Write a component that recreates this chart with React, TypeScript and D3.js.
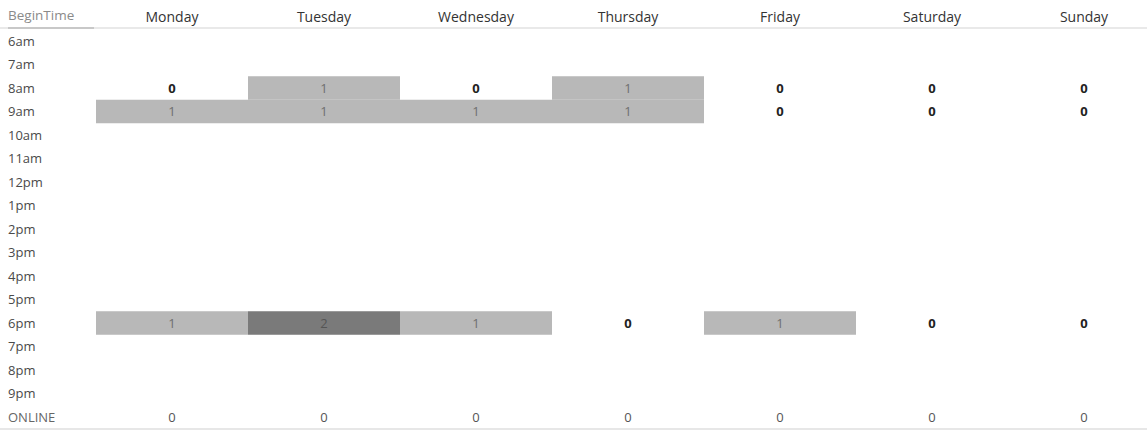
import React from "react";
import * as d3 from "d3";

const days = ["Monday", "Tuesday", "Wednesday", "Thursday", "Friday", "Saturday", "Sunday"];
const times = ["6am", "7am", "8am", "9am", "10am", "11am", "12pm", "1pm", "2pm", "3pm", "4pm", "5pm", "6pm", "7pm", "8pm", "9pm", "ONLINE"];
const row8am = [0, 1, 0, 1, 0, 0, 0];
const row9am = [1, 1, 1, 1, 0, 0, 0];
const row6pm = [1, 2, 1, 0, 1, 0, 0];
const rowOnline = [0, 0, 0, 0, 0, 0, 0];

const rowValues: Record<string, number[]> = {
  "8am": row8am,
  "9am": row9am,
  "6pm": row6pm,
  ONLINE: rowOnline,
};

const W = 1147;
const H = 438;
const FONT = "'Open Sans', 'DejaVu Sans', sans-serif";

export default function App() {
  const x = d3.scaleBand<string>().domain(days).range([96, 1160]);
  const yPoint = d3.scalePoint<string>().domain(times).range([41, 417]);
  const step = yPoint.step();
  const color = d3.scaleLinear<string>().domain([0, 1, 2]).range(["#ffffff", "#b8b8b8", "#7a7a7a"]);

  const cells: { t: string; d: string; v: number }[] = [];
  Object.keys(rowValues).forEach((t) => {
    rowValues[t].forEach((v, i) => cells.push({ t, d: days[i], v }));
  });

  return (
    <div style={{ position: "fixed", left: 0, top: 0 }}>
      <svg width={W} height={H} style={{ display: "block", background: "#fff" }}>
        {/* header */}
        <line x1={0} x2={W} y1={28} y2={28} stroke="#e2e2e2" strokeWidth={1.5} />
        <text x={8} y={20} fontFamily={FONT} fontSize={13.5} fill="#8a8a8a">BeginTime</text>
        <line x1={8} x2={94} y1={28} y2={28} stroke="#a8a8a8" strokeWidth={1.2} />
        {days.map((d) => (
          <text
            key={d}
            x={(x(d) as number) + x.bandwidth() / 2}
            y={22}
            textAnchor="middle"
            fontFamily={FONT}
            fontSize={14}
            fill="#333"
          >
            {d}
          </text>
        ))}
        {/* cells */}
        {cells
          .filter((c) => c.v > 0)
          .map((c) => (
            <rect
              key={`r-${c.t}-${c.d}`}
              x={x(c.d) as number}
              y={(yPoint(c.t) as number) - step / 2}
              width={x.bandwidth()}
              height={step}
              fill={color(c.v)}
            />
          ))}
        {cells.map((c) => (
          <text
            key={`t-${c.t}-${c.d}`}
            x={(x(c.d) as number) + x.bandwidth() / 2}
            y={yPoint(c.t) as number}
            dy="0.35em"
            textAnchor="middle"
            fontFamily={FONT}
            fontSize={13}
            fontWeight={c.v === 0 && c.t !== "ONLINE" ? 700 : 400}
            fill={c.v === 2 ? "#555" : c.v === 1 ? "#6f6f6f" : c.t === "ONLINE" ? "#555" : "#222"}
          >
            {c.v}
          </text>
        ))}
        {/* row labels */}
        {times.map((t) => (
          <text
            key={t}
            x={8}
            y={yPoint(t) as number}
            dy="0.35em"
            fontFamily={FONT}
            fontSize={13}
            fill={t === "ONLINE" ? "#666" : "#4a4a4a"}
          >
            {t}
          </text>
        ))}
        <line x1={0} x2={W} y1={429} y2={429} stroke="#cfcfcf" strokeWidth={1.2} />
      </svg>
    </div>
  );
}
